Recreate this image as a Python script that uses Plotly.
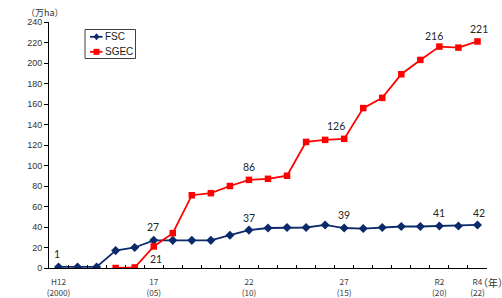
import plotly.graph_objects as go

years = list(range(2000, 2023))
fsc = [1, 1, 1, 17, 20, 27, 27, 27, 27, 32, 37, 39, 39.5, 39.5, 42, 39, 38.5, 39.5, 40.5, 40.5, 41, 41, 42]
sgec = [None, None, None, 0, 0.5, 21, 34, 71, 73, 80, 86, 87, 90, 123, 125, 126, 156, 166, 189, 203, 216, 215, 221]

tick_years = [2000, 2005, 2010, 2015, 2020, 2022]
tick_text = ["H12<br>(2000)", "17<br>(05)", "22<br>(10)", "27<br>(15)", "R2<br>(20)", "R4<br>(22)"]

fsc_label_years = [2000, 2005, 2010, 2015, 2020, 2022]
fsc_label_text = ["1", "27", "37", "39", "41", "42"]
sgec_label_years = [2005, 2010, 2015, 2020, 2022]
sgec_label_text = ["21", "86", "126", "216", "221"]

navy = "#0B2A6B"
red = "#FF0000"

W, H = 502, 298
ML, MR, MT, MB = 49, 15, 22, 30
PW, PH = W - ML - MR, H - MT - MB


def px(x):
    return (x - ML) / PW


def py(y):
    return (H - MB - y) / PH


fig = go.Figure()
fig.add_trace(go.Scatter(x=years, y=fsc, name="FSC", mode="lines+markers",
                         line=dict(color=navy, width=1.8),
                         marker=dict(symbol="diamond", size=7, color=navy)))
fig.add_trace(go.Scatter(x=years, y=sgec, name="SGEC", mode="lines+markers",
                         line=dict(color=red, width=1.8),
                         marker=dict(symbol="square", size=6.5, color=red)))
fig.add_trace(go.Scatter(x=[years[0], years[-1]], y=[0, 0], xaxis="x2", mode="markers",
                         marker=dict(opacity=0), showlegend=False, hoverinfo="skip"))

annotations = []
lab_font = dict(family="Lato, 'Open Sans', sans-serif", size=10.5, color="#262626")
fsc_shift = {"1": (-1.5, 13), "27": (-1, 13), "37": (0, 12), "39": (0, 13), "41": (0, 13), "42": (2, 12)}
sgec_shift = {"21": (2, -12.5), "86": (0, 12.5), "126": (-8, 13), "216": (-5.5, 11), "221": (2, 12)}
for yr, t in zip(fsc_label_years, fsc_label_text):
    v = fsc[years.index(yr)]
    xs, ys = fsc_shift[t]
    annotations.append(dict(x=yr, y=v, text=t, showarrow=False, xshift=xs, yshift=ys, font=lab_font))
for yr, t in zip(sgec_label_years, sgec_label_text):
    v = sgec[years.index(yr)]
    xs, ys = sgec_shift[t]
    annotations.append(dict(x=yr, y=v, text=t, showarrow=False, xshift=xs, yshift=ys, font=lab_font))

annotations.append(dict(xref="paper", yref="paper", x=px(493), y=py(282), xanchor="center",
                        yanchor="middle", text="（年）", showarrow=False,
                        font=dict(family="Noto Sans CJK JP", size=10, color="#333333")))
annotations.append(dict(xref="paper", yref="paper", x=px(44.5), y=py(12.5), xanchor="center",
                        yanchor="middle", text="（万ha）", showarrow=False,
                        font=dict(family="Noto Sans CJK JP", size=9, color="#333333")))

# legend (drawn as a boxed key)
leg_font = dict(family="Liberation Sans, Arial, sans-serif", size=10, color="#1a1a1a")
shapes = [dict(type="rect", xref="paper", yref="paper", x0=px(85), x1=px(135.5), y0=py(58.5), y1=py(29.5),
               line=dict(color="#404040", width=1), fillcolor="white", layer="above")]
for row_y, name, col, sym in [(36.8, "FSC", navy, "diamond"), (51.8, "SGEC", red, "square")]:
    shapes.append(dict(type="line", xref="paper", yref="paper", x0=px(90), x1=px(102.5),
                       y0=py(row_y), y1=py(row_y), line=dict(color=col, width=1.8), layer="above"))
    cx, cy = 96.5, row_y
    if sym == "diamond":
        path = "M {} {} L {} {} L {} {} L {} {} Z".format(
            px(cx), py(cy - 3.5), px(cx + 3), py(cy), px(cx), py(cy + 3.5), px(cx - 3), py(cy))
        shapes.append(dict(type="path", xref="paper", yref="paper", path=path,
                           fillcolor=col, line=dict(color=col, width=0), layer="above"))
    else:
        shapes.append(dict(type="rect", xref="paper", yref="paper", x0=px(cx - 3), x1=px(cx + 3),
                           y0=py(cy + 3), y1=py(cy - 3), fillcolor=col, line=dict(color=col, width=0),
                           layer="above"))
    annotations.append(dict(xref="paper", yref="paper", x=px(102.5), y=py(row_y), xanchor="left",
                            yanchor="middle", text=name, showarrow=False, font=leg_font))

fig.update_layout(
    width=W, height=H,
    margin=dict(l=ML, r=MR, t=MT, b=MB, autoexpand=False),
    paper_bgcolor="white", plot_bgcolor="white",
    showlegend=False,
    xaxis=dict(range=[1999.5, 2022.5], tickvals=[y + 0.5 for y in range(1999, 2023)],
               ticktext=[""] * 24, ticks="inside", ticklen=3, tickcolor="black", automargin=False,
               showline=True, linecolor="black", linewidth=1, showgrid=False, zeroline=False),
    xaxis2=dict(range=[1999.5, 2022.5], overlaying="x", side="bottom", tickvals=tick_years,
                ticktext=tick_text, ticks="outside", ticklen=6, tickcolor="rgba(0,0,0,0)",
                showline=False, showgrid=False, zeroline=False, automargin=False,
                tickfont=dict(family="Noto Sans CJK JP", size=8.2, color="#404040")),
    yaxis=dict(range=[0, 240], tickvals=list(range(0, 241, 20)), ticks="outside", ticklen=4,
               tickcolor="black", showline=True, linecolor="black", linewidth=1,
               showgrid=False, zeroline=False, automargin=False,
               tickfont=dict(family="Liberation Sans, Arial, sans-serif", size=9, color="#333333")),
    annotations=annotations,
    shapes=shapes,
)
fig.write_html("out.html", config={"displayModeBar": False},
               post_script="document.body.style.margin='0px';")
